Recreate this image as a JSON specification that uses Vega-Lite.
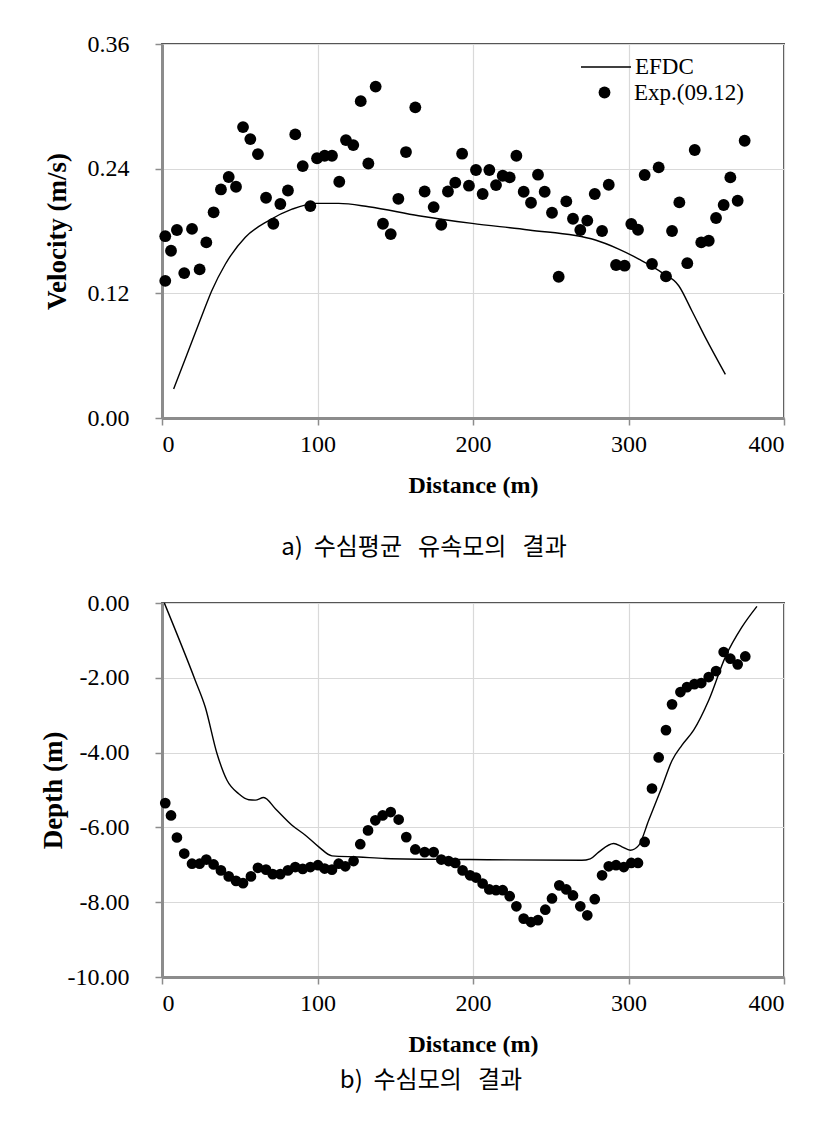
{
  "$schema": "https://vega.github.io/schema/vega-lite/v6.json",
  "padding": {"left": 38, "top": 31, "right": 20, "bottom": 10},
  "spacing": 29,
  "config": {
    "font": "Liberation Serif",
    "view": {"stroke": "#555555", "strokeWidth": 2},
    "style": {"guide-label": {"font": "Liberation Serif"}, "guide-title": {"font": "Liberation Serif"}},
    "axis": {
      "labelFont": "Liberation Serif", "labelFontSize": 24, "labelColor": "#000000",
      "titleFont": "Liberation Serif", "titleFontWeight": "bold", "titleColor": "#000000",
      "gridColor": "#d9d9d9", "gridWidth": 1.2,
      "domainColor": "#8c8c8c", "domainWidth": 3,
      "tickColor": "#8c8c8c", "tickSize": 7, "tickWidth": 1.5
    },
    "axisX": {"labelFont": "Liberation Serif", "titleFontSize": 24, "labelPadding": 7, "titlePadding": 17},
    "axisY": {"labelFont": "Liberation Serif", "titleFontSize": 27, "labelPadding": 26}
  },
  "datasets": {
    "vel_pts": [
      {"x":2.1,"y":0.175},{"x":2.1,"y":0.132},{"x":5.8,"y":0.161},{"x":9.6,"y":0.181},{"x":14.3,"y":0.1395},{"x":19.3,"y":0.182},{"x":24.2,"y":0.143},{"x":28.5,"y":0.169},{"x":33.2,"y":0.198},{"x":37.9,"y":0.220},{"x":42.9,"y":0.232},{"x":47.6,"y":0.2226},{"x":52.1,"y":0.280},{"x":56.8,"y":0.2685},{"x":61.7,"y":0.254},{"x":66.9,"y":0.212},{"x":71.6,"y":0.187},{"x":76.1,"y":0.206},{"x":81,"y":0.219},{"x":85.7,"y":0.273},{"x":90.5,"y":0.2425},{"x":95.4,"y":0.204},{"x":99.7,"y":0.250},{"x":104.6,"y":0.2524},{"x":109.3,"y":0.2524},{"x":114,"y":0.2274},{"x":118.3,"y":0.2675},{"x":123,"y":0.2627},{"x":127.8,"y":0.305},{"x":132.7,"y":0.245},{"x":137.4,"y":0.319},{"x":142.1,"y":0.187},{"x":147.1,"y":0.177},{"x":152,"y":0.211},{"x":156.9,"y":0.256},{"x":162.9,"y":0.299},{"x":168.9,"y":0.218},{"x":174.7,"y":0.203},{"x":179.6,"y":0.186},{"x":183.9,"y":0.218},{"x":188.6,"y":0.2265},{"x":193,"y":0.2544},{"x":197.4,"y":0.2236},{"x":201.9,"y":0.2387},{"x":206.2,"y":0.2156},{"x":210.5,"y":0.2387},{"x":214.8,"y":0.2242},{"x":219.1,"y":0.2332},{"x":223.6,"y":0.2316},{"x":227.9,"y":0.2524},{"x":232.6,"y":0.2178},{"x":237.3,"y":0.2072},{"x":241.8,"y":0.2342},{"x":246.1,"y":0.2178},{"x":250.8,"y":0.1976},{"x":255.1,"y":0.136},{"x":260,"y":0.2085},{"x":264.3,"y":0.1918},{"x":269,"y":0.181},{"x":273.5,"y":0.190},{"x":278.3,"y":0.2156},{"x":283,"y":0.180},{"x":287.3,"y":0.2245},{"x":292,"y":0.1473},{"x":297.5,"y":0.1466},{"x":301.8,"y":0.1867},{"x":306.1,"y":0.1812},{"x":310.4,"y":0.2339},{"x":315.1,"y":0.1482},{"x":319.4,"y":0.2412},{"x":324.1,"y":0.1363},{"x":328,"y":0.180},{"x":332.7,"y":0.2075},{"x":337.8,"y":0.149},{"x":342.6,"y":0.258},{"x":346.8,"y":0.169},{"x":351.6,"y":0.1706},{"x":356.3,"y":0.1925},{"x":361.2,"y":0.205},{"x":365.5,"y":0.2316},{"x":370.2,"y":0.2091},{"x":374.7,"y":0.2669}
    ],
    "vel_line": [
      {"x":7.5,"y":0.028},{"x":15,"y":0.057},{"x":26.8,"y":0.103},{"x":32,"y":0.1225},{"x":40.7,"y":0.148},{"x":53.6,"y":0.174},{"x":68.6,"y":0.19},{"x":83.6,"y":0.201},{"x":98.6,"y":0.2066},{"x":113.6,"y":0.2066},{"x":132.9,"y":0.2034},{"x":165,"y":0.1947},{"x":199.4,"y":0.1873},{"x":235.8,"y":0.181},{"x":278.7,"y":0.1713},{"x":293.7,"y":0.1626},{"x":306.6,"y":0.153},{"x":321.5,"y":0.140},{"x":332.3,"y":0.1273},{"x":340.8,"y":0.103},{"x":349.4,"y":0.0776},{"x":362.3,"y":0.042}
    ],
    "dep_pts": [
      {"x":2.1,"y":-5.35},{"x":5.8,"y":-5.68},{"x":9.6,"y":-6.27},{"x":14.3,"y":-6.70},{"x":19.3,"y":-6.97},{"x":24.2,"y":-6.97},{"x":28.5,"y":-6.86},{"x":33.2,"y":-6.99},{"x":37.9,"y":-7.15},{"x":42.9,"y":-7.31},{"x":47.6,"y":-7.43},{"x":52.1,"y":-7.49},{"x":57.2,"y":-7.31},{"x":61.7,"y":-7.08},{"x":66.9,"y":-7.13},{"x":71.2,"y":-7.25},{"x":76.1,"y":-7.25},{"x":81,"y":-7.15},{"x":85.7,"y":-7.06},{"x":90.5,"y":-7.11},{"x":95.4,"y":-7.06},{"x":100.3,"y":-7.01},{"x":104.6,"y":-7.10},{"x":109.3,"y":-7.13},{"x":113.6,"y":-6.97},{"x":117.9,"y":-7.04},{"x":123.2,"y":-6.90},{"x":127.5,"y":-6.45},{"x":132.5,"y":-6.08},{"x":137.2,"y":-5.81},{"x":141.9,"y":-5.68},{"x":147.1,"y":-5.59},{"x":152.2,"y":-5.79},{"x":157.1,"y":-6.26},{"x":162.9,"y":-6.59},{"x":168.9,"y":-6.66},{"x":174.7,"y":-6.66},{"x":179.6,"y":-6.86},{"x":184.3,"y":-6.90},{"x":188.6,"y":-6.95},{"x":193.3,"y":-7.15},{"x":198.1,"y":-7.28},{"x":201.9,"y":-7.34},{"x":206.2,"y":-7.50},{"x":210.5,"y":-7.66},{"x":214.8,"y":-7.68},{"x":219.1,"y":-7.68},{"x":223.6,"y":-7.84},{"x":227.9,"y":-8.11},{"x":232.6,"y":-8.44},{"x":237.3,"y":-8.53},{"x":241.8,"y":-8.48},{"x":246.5,"y":-8.20},{"x":250.8,"y":-7.90},{"x":255.5,"y":-7.55},{"x":260,"y":-7.66},{"x":264.3,"y":-7.82},{"x":269,"y":-8.11},{"x":273.5,"y":-8.35},{"x":278.3,"y":-7.92},{"x":283,"y":-7.28},{"x":287.3,"y":-7.04},{"x":292,"y":-7.01},{"x":297,"y":-7.06},{"x":301.8,"y":-6.95},{"x":306.1,"y":-6.95},{"x":310.4,"y":-6.39},{"x":315.1,"y":-4.96},{"x":319.4,"y":-4.13},{"x":324.1,"y":-3.40},{"x":328,"y":-2.71},{"x":333.4,"y":-2.38},{"x":337.6,"y":-2.25},{"x":342.4,"y":-2.17},{"x":346.8,"y":-2.14},{"x":351.6,"y":-1.98},{"x":356.3,"y":-1.82},{"x":361.2,"y":-1.31},{"x":365.5,"y":-1.49},{"x":370.2,"y":-1.64},{"x":375.1,"y":-1.43}
    ],
    "dep_line": [
      {"x":1.5,"y":0},{"x":21.4,"y":-2.07},{"x":27.8,"y":-2.78},{"x":35.4,"y":-4.03},{"x":41.8,"y":-4.74},{"x":49.3,"y":-5.10},{"x":55.8,"y":-5.26},{"x":60,"y":-5.27},{"x":65.4,"y":-5.20},{"x":72.9,"y":-5.50},{"x":83.6,"y":-5.94},{"x":92.2,"y":-6.21},{"x":100.8,"y":-6.52},{"x":109.3,"y":-6.76},{"x":126.5,"y":-6.79},{"x":143.7,"y":-6.83},{"x":197.9,"y":-6.86},{"x":270,"y":-6.88},{"x":275.4,"y":-6.84},{"x":280.8,"y":-6.66},{"x":290.5,"y":-6.43},{"x":295.8,"y":-6.52},{"x":301.2,"y":-6.61},{"x":306.6,"y":-6.48},{"x":313,"y":-5.81},{"x":321.5,"y":-4.92},{"x":328,"y":-4.21},{"x":334.4,"y":-3.80},{"x":341.9,"y":-3.40},{"x":351.6,"y":-2.60},{"x":362.3,"y":-1.44},{"x":373,"y":-0.64},{"x":382.6,"y":-0.09}
    ]
  },
  "vconcat": [
    {
      "width": 622,
      "height": 374,
      "title": {"text": "a)\u00a0\u00a0수심평균\u00a0\u00a0\u00a0유속모의\u00a0\u00a0\u00a0결과", "orient": "bottom", "anchor": "middle", "dx": -49, "offset": 39, "font": "Noto Sans CJK KR", "fontSize": 24, "fontWeight": "normal", "color": "#000000"},
      "encoding": {
        "x": {"field": "x", "type": "quantitative", "scale": {"domain": [0, 400], "nice": false}, "axis": {"values": [0, 100, 200, 300, 400], "title": "Distance (m)", "grid": true, "labelFont": "Liberation Serif"}},
        "y": {"field": "y", "type": "quantitative", "scale": {"domain": [0, 0.36], "nice": false}, "axis": {"values": [0, 0.12, 0.24, 0.36], "format": ".2f", "title": "Velocity (m/s)", "titlePadding": 16, "grid": true, "labelFont": "Liberation Serif"}}
      },
      "resolve": {"legend": {"color": "independent", "shape": "independent"}},
      "layer": [
        {
          "data": {"name": "vel_line"},
          "mark": {"type": "line", "strokeWidth": 1.4, "interpolate": "monotone"},
          "encoding": {
            "color": {"datum": "EFDC", "type": "nominal", "scale": {"domain": ["EFDC"], "range": ["#000000"]},
              "legend": {"orient": "none", "legendX": 418, "legendY": -3, "title": null, "padding": 0, "symbolType": "stroke", "symbolSize": 2500, "symbolStrokeWidth": 1.4, "symbolStrokeColor": "#000000", "labelFont": "Liberation Serif", "labelFontSize": 23, "labelColor": "#000000", "labelOffset": 3, "labelLimit": 300}}
          }
        },
        {
          "data": {"name": "vel_pts"},
          "transform": [{"calculate": "'Exp.(09.12)'", "as": "series"}],
          "mark": {"type": "point", "filled": true, "color": "#000000", "opacity": 1, "size": 140},
          "encoding": {
            "shape": {"field": "series", "type": "nominal",
              "scale": {"domain": ["Exp.(09.12)"], "range": ["circle"]},
              "legend": {"orient": "none", "legendX": 431, "legendY": 37, "title": null, "padding": 0, "labelFont": "Liberation Serif", "labelFontSize": 23, "labelColor": "#000000", "labelOffset": 18, "labelLimit": 300, "symbolSize": 140, "symbolFillColor": "#000000"}
            }
          }
        }
      ]
    },
    {
      "width": 622,
      "height": 374,
      "title": {"text": "b)\u00a0\u00a0수심모의\u00a0\u00a0\u00a0결과", "orient": "bottom", "anchor": "middle", "dx": -42, "offset": 13, "font": "Noto Sans CJK KR", "fontSize": 24, "fontWeight": "normal", "color": "#000000"},
      "encoding": {
        "x": {"field": "x", "type": "quantitative", "scale": {"domain": [0, 400], "nice": false}, "axis": {"values": [0, 100, 200, 300, 400], "title": "Distance (m)", "grid": true, "labelFont": "Liberation Serif"}},
        "y": {"field": "y", "type": "quantitative", "scale": {"domain": [-10, 0], "nice": false}, "axis": {"values": [-10, -8, -6, -4, -2, 0], "labelExpr": "(datum.value < 0 ? '-' : '') + format(abs(datum.value), '.2f')", "title": "Depth (m)", "titlePadding": 0, "grid": true, "labelFont": "Liberation Serif"}}
      },
      "layer": [
        {
          "data": {"name": "dep_line"},
          "mark": {"type": "line", "color": "#000000", "strokeWidth": 1.4, "interpolate": "monotone"}
        },
        {
          "data": {"name": "dep_pts"},
          "mark": {"type": "point", "filled": true, "color": "#000000", "opacity": 1, "size": 115}
        }
      ]
    }
  ]
}
